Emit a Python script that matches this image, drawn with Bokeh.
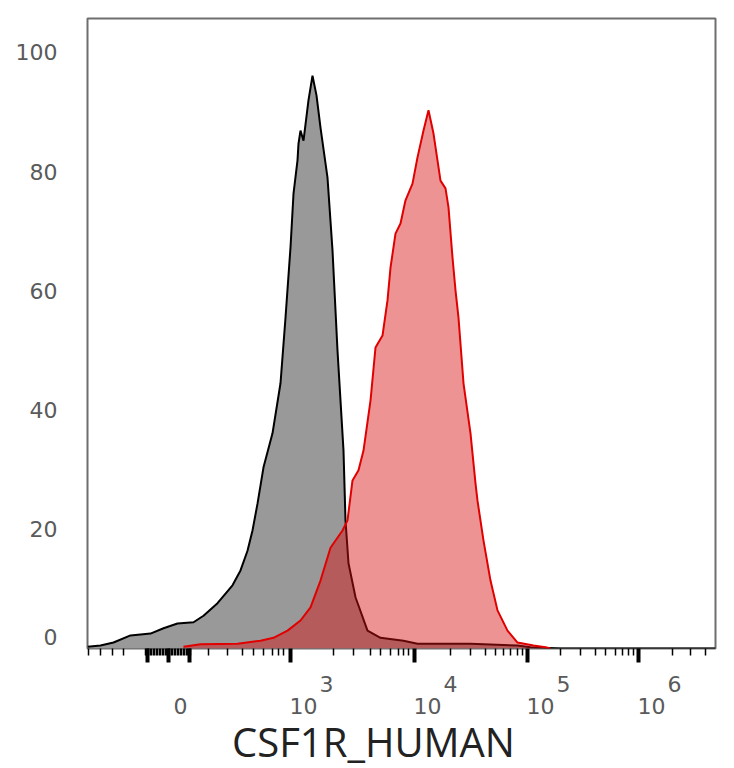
from bokeh.plotting import figure
from bokeh.layouts import column
from bokeh.models import FixedTicker, Range1d
from bokeh.core.properties import value
from bokeh.embed import file_html
from bokeh.resources import INLINE

# x values are display channels of the biexponential axis (0 = left edge of plot)
gray_x = [0, 13, 26, 43, 63, 76, 90, 106, 116, 130, 145, 153, 160, 165, 170, 176, 185, 193, 198,
          203, 206, 210, 211, 213, 216, 221, 225, 229, 233, 240, 245, 250, 256, 258, 261, 268, 280,
          293, 316, 330, 383, 430, 443, 473, 628]
gray_y = [0.3, 0.5, 1.0, 2.2, 2.5, 3.4, 4.2, 4.4, 5.5, 7.6, 10.6, 13.1, 16.4, 19.8, 24.3, 30.4, 36.1,
          44.5, 55.5, 67.3, 76.3, 81.9, 84.7, 86.9, 85.2, 92.0, 96.1, 92.8, 87.4, 79.0, 66.8, 50.0,
          33.2, 21.5, 14.3, 8.6, 3.0, 1.8, 1.3, 0.8, 0.8, 0.5, 0.2, 0.0, 0.0]

red_x = [96, 113, 150, 173, 186, 200, 213, 223, 233, 243, 255, 260, 265, 271, 276, 283, 288, 295,
         300, 303, 308, 313, 318, 325, 330, 336, 341, 346, 353, 358, 361, 365, 368, 371, 376, 383,
         388, 390, 396, 403, 410, 420, 430, 446, 458, 463]
red_y = [0.3, 0.7, 0.8, 1.3, 1.8, 3.0, 4.7, 6.9, 11.4, 16.9, 19.8, 21.5, 28.2, 29.9, 33.2, 41.6,
         50.5, 52.5, 58.4, 63.9, 69.6, 71.3, 75.2, 78.0, 82.4, 86.9, 90.3, 86.4, 78.5, 77.2, 74.0,
         65.6, 60.1, 55.5, 44.5, 36.1, 27.7, 24.8, 18.1, 11.4, 6.4, 3.0, 1.0, 0.5, 0.2, 0.0]

# axis ticks (channels)
x_major_ticks = [60, 81, 102, 203, 327, 440, 551]
x_decade_ticks = [203, 327, 440, 551]
x_decade_exponents = ["3", "4", "5", "6"]
x_zero_label_pos = 93
x_minor_ticks = [1, 13, 25, 36,
                 58, 59.5, 61, 62.5, 64, 65.5, 67, 68.5, 70, 71.5, 73, 74.5, 76, 77.5, 79, 80.5,
                 82, 83.5, 85, 86.5, 88, 89.5, 91, 92.5, 94, 95.5, 97, 98.5, 100, 101.5, 103,
                 121, 140, 155, 166, 176, 185, 191, 196,
                 246, 266, 283, 293, 303, 311, 316, 321,
                 363, 383, 398, 408, 416, 423, 430, 435,
                 473, 493, 508, 518, 528, 535, 541, 546,
                 585, 603, 618]
# the "0" label of the y axis sits a little above the baseline in the original
y_ticks = [1.85, 20, 40, 60, 80, 100]
y_tick_labels = ["0", "20", "40", "60", "80", "100"]
x_title = "CSF1R_HUMAN"

LABEL_FONT = "DejaVu Sans"
LABEL_COLOR = "#5a5a5a"
LABEL_SIZE = "22px"

p = figure(width=734, height=664, output_backend="svg", toolbar_location=None,
           x_range=Range1d(0, 628), y_range=Range1d(0, 105.7),
           min_border_left=87, min_border_right=19, min_border_top=18, min_border_bottom=16)
p.grid.visible = False
p.outline_line_color = "#6e6e6e"
p.outline_line_width = 2

p.varea(x=gray_x, y1=0, y2=gray_y, fill_color="#999999")
p.line(gray_x, gray_y, line_color="black", line_width=2)
p.varea(x=red_x, y1=0, y2=red_y, fill_color="#d81010", fill_alpha=0.45)
p.line(red_x, red_y, line_color="#e00000", line_width=2)

xa = p.xaxis[0]
xa.ticker = FixedTicker(ticks=x_major_ticks, minor_ticks=x_minor_ticks)
xa.major_label_overrides = {t: "" for t in x_major_ticks}
xa.major_label_text_font_size = "0px"
xa.major_label_standoff = 0
xa.major_tick_out = 14
xa.major_tick_in = 0
xa.major_tick_line_width = 4
xa.major_tick_line_color = "black"
xa.minor_tick_out = 7
xa.minor_tick_in = 0
xa.minor_tick_line_width = 1.5
xa.minor_tick_line_color = "black"
xa.axis_line_color = None

ya = p.yaxis[0]
ya.ticker = FixedTicker(ticks=y_ticks)
ya.major_label_overrides = dict(zip(y_ticks, y_tick_labels))
ya.major_tick_out = 0
ya.major_tick_in = 0
ya.minor_tick_out = 0
ya.minor_tick_in = 0
ya.axis_line_color = None
ya.major_label_standoff = 30
ya.major_label_text_font = LABEL_FONT
ya.major_label_text_font_size = LABEL_SIZE
ya.major_label_text_color = LABEL_COLOR

# strip below the plot holding the biexponential tick labels and the axis title;
# it shares the x scale of the plot, y is pixels from the top of the strip
q = figure(width=734, height=104, output_backend="svg", toolbar_location=None,
           x_range=p.x_range, y_range=Range1d(104, 0),
           min_border_left=87, min_border_right=19, min_border_top=0, min_border_bottom=0,
           x_axis_location=None, y_axis_location=None)
q.grid.visible = False
q.outline_line_color = None

q.text(x=[t - 1 for t in x_decade_ticks], y=[41] * len(x_decade_ticks), text=["10"] * len(x_decade_ticks),
       text_align="left", text_baseline="middle", text_font=value(LABEL_FONT),
       text_font_size=value(LABEL_SIZE), text_color=LABEL_COLOR)
q.text(x=[t + 29 for t in x_decade_ticks], y=[19] * len(x_decade_ticks), text=x_decade_exponents,
       text_align="left", text_baseline="middle", text_font=value(LABEL_FONT),
       text_font_size=value(LABEL_SIZE), text_color=LABEL_COLOR)
q.text(x=[x_zero_label_pos], y=[41], text=["0"],
       text_align="center", text_baseline="middle", text_font=value(LABEL_FONT),
       text_font_size=value(LABEL_SIZE), text_color=LABEL_COLOR)
q.text(x=[286], y=[77], text=[x_title],
       text_align="center", text_baseline="middle", text_font=value("Open Sans"),
       text_font_size=value("40px"), text_color="#222222")

layout = column(p, q, spacing=0)
open("out.html", "w").write(file_html(layout, INLINE))
